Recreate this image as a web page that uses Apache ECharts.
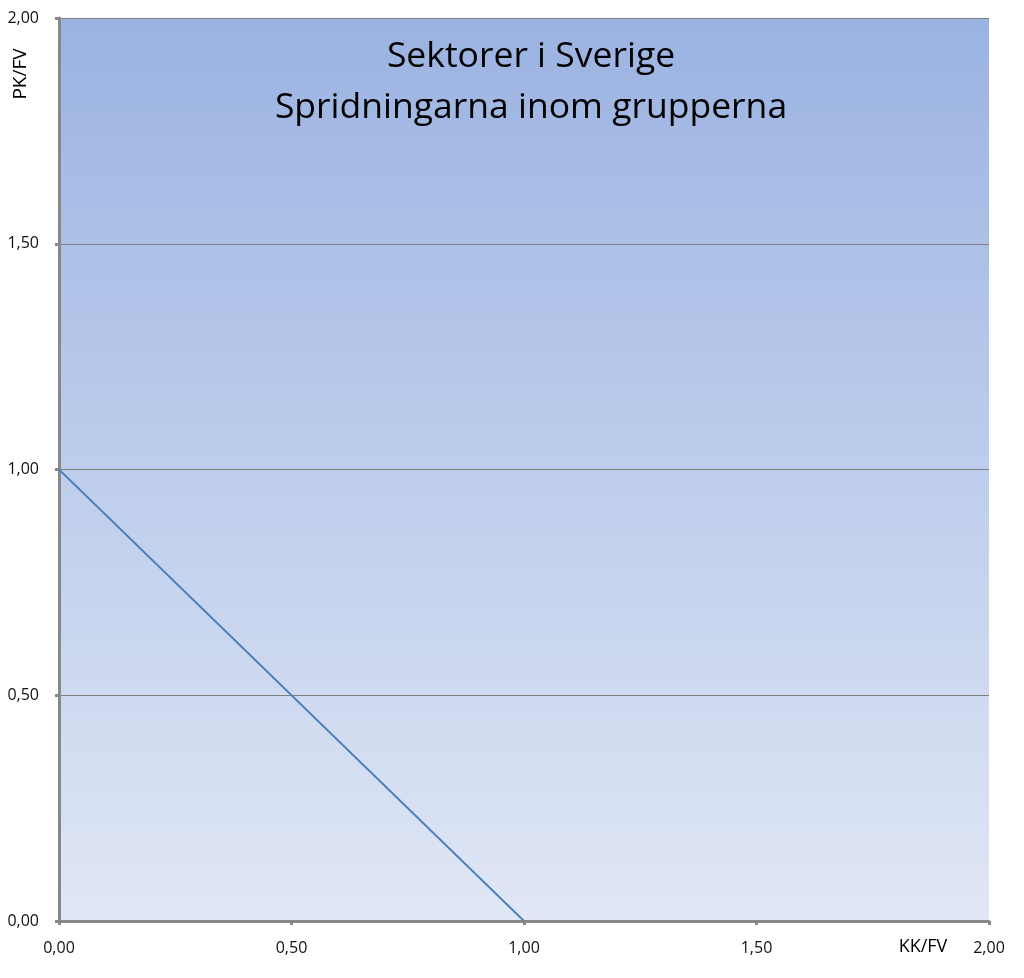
<!DOCTYPE html>
<html><head><meta charset="utf-8">
<script src="https://cdn.jsdelivr.net/npm/echarts@6/dist/echarts.min.js"></script>
<style>html,body{margin:0;padding:0;background:#fff}#c{width:1024px;height:978px}</style>
</head><body><div id="c"></div>
<script>
const titleLines = ['Sektorer i Sverige', 'Spridningarna inom grupperna'];
const xName = 'KK/FV';
const yName = 'PK/FV';
const lineX = [0, 1];
const lineY = [1, 0];
const axisMin = 0, axisMax = 2, axisStep = 0.5;

const fmt = v => v.toFixed(2).replace('.', ',');
const chart = echarts.init(document.getElementById('c'));
const font = 'Open Sans';
chart.setOption({
  animation: false,
  grid: {
    left: 59, right: 35, top: 18, bottom: 57, show: true, borderWidth: 0,
    backgroundColor: new echarts.graphic.LinearGradient(0, 0, 0, 1, [
      {offset: 0, color: '#9bb3e2'}, {offset: 1, color: '#e0e7f5'}
    ])
  },
  xAxis: {
    type: 'value', min: axisMin, max: axisMax, interval: axisStep,
    axisLine: {show: true, lineStyle: {color: '#888888', width: 3}},
    axisTick: {show: true, length: 4, lineStyle: {color: '#888888', width: 3}},
    splitLine: {show: false},
    axisLabel: {formatter: fmt, color: '#111', fontFamily: font, fontSize: 16, margin: 19}
  },
  yAxis: {
    type: 'value', min: axisMin, max: axisMax, interval: axisStep,
    axisLine: {show: true, lineStyle: {color: '#888888', width: 3}},
    axisTick: {show: true, length: 4, lineStyle: {color: '#888888', width: 3}},
    splitLine: {show: true, lineStyle: {color: '#7f7f7f', width: 1}},
    axisLabel: {formatter: fmt, color: '#111', fontFamily: font, fontSize: 16, margin: 20}
  },
  series: [{
    type: 'line', data: lineX.map((x, i) => [x, lineY[i]]), symbol: 'none',
    lineStyle: {color: '#4a7ebb', width: 1.8}
  }],
  graphic: [
    {type: 'text', style: {x: 531, y: 57, text: titleLines[0], fill: '#000', font: '35.5px "Open Sans"', textAlign: 'center', textVerticalAlign: 'middle'}},
    {type: 'text', style: {x: 531, y: 108, text: titleLines[1], fill: '#000', font: '35.5px "Open Sans"', textAlign: 'center', textVerticalAlign: 'middle'}},
    {type: 'text', style: {x: 923, y: 947, text: xName, fill: '#000', font: '18px "Open Sans"', textAlign: 'center', textVerticalAlign: 'middle'}},
    {type: 'text', rotation: Math.PI / 2, x: 21, y: 74, style: {x: 0, y: 0, text: yName, fill: '#000', font: '19px "Open Sans"', textAlign: 'center', textVerticalAlign: 'middle'}}
  ]
});
</script></body></html>
